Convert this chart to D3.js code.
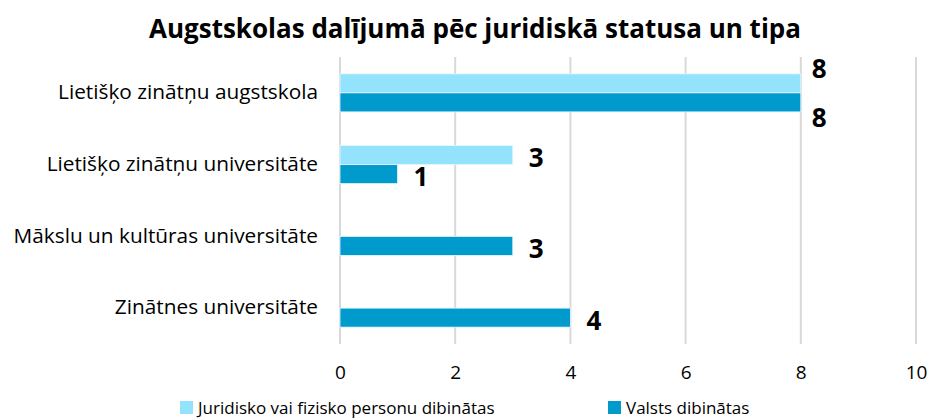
<!DOCTYPE html>
<html>
<head>
<meta charset="utf-8">
<script src="https://cdn.jsdelivr.net/npm/d3@7"></script>
<style>
  body { margin: 0; background: #fff; }
  svg { display: block; font-family: "Open Sans", sans-serif; }
  .grid line { stroke: #d9d9d9; stroke-width: 2; }
  .tick text { fill: #000; }
</style>
</head>
<body>
<svg id="chart" width="932" height="419"></svg>
<script>
// chart data
const categories = ['Lietišķo zinātņu augstskola', 'Lietišķo zinātņu universitāte', 'Mākslu un kultūras universitāte', 'Zinātnes universitāte'];
const seriesNames = ['Juridisko vai fizisko personu dibinātas', 'Valsts dibinātas'];
const privateVals = [8, 3, 0, 0];
const stateVals = [8, 1, 3, 4];
const xTicks = [0, 2, 4, 6, 8, 10];
const colors = ['#93e3fc', '#009acd'];

const FONT = '"Open Sans", sans-serif';
const svg = d3.select('#chart');
const margin = { top: 57, right: 16, bottom: 75, left: 340 };
const W = 932 - margin.left - margin.right, H = 419 - margin.top - margin.bottom;

svg.append('text').attr('x', 475).attr('y', 38).attr('text-anchor', 'middle')
  .attr('font-size', 26).attr('font-weight', 700).text('Augstskolas dalījumā pēc juridiskā statusa un tipa');

const g = svg.append('g').attr('transform', `translate(${margin.left},${margin.top})`);
const x = d3.scaleLinear().domain([0, 10]).range([0, W]);
const y = d3.scaleBand().domain(categories).range([0, H]).paddingInner(0.47).paddingOuter(0.235);
const sub = d3.scaleBand().domain([0, 1]).range([0, y.bandwidth()]);

// gridlines
g.append('g').attr('class', 'grid').selectAll('line').data(xTicks).join('line')
  .attr('x1', d => x(d)).attr('x2', d => x(d)).attr('y1', 0).attr('y2', H);

// x axis
g.append('g').attr('transform', `translate(0,${H})`)
  .call(d3.axisBottom(x).tickValues(xTicks).tickSize(0).tickPadding(22))
  .call(s => s.select('.domain').remove())
  .call(s => s.selectAll('text').attr('font-size', 19).attr('font-family', FONT));

// category labels
g.append('g').attr('transform', 'translate(-22,0)')
  .call(d3.axisLeft(y).tickSize(0).tickPadding(0))
  .call(s => s.select('.domain').remove())
  .call(s => s.selectAll('text').attr('font-size', 20.8).attr('font-family', FONT).attr('dy', '0.3em'));

const series = [privateVals, stateVals];
series.forEach((vals, si) => {
  const rows = vals.map((v, i) => ({ v, cat: categories[i], i }));
  g.append('g').selectAll('rect').data(rows.filter(d => d.v > 0)).join('rect')
    .attr('x', x(0)).attr('y', d => y(d.cat) + sub(si))
    .attr('width', d => x(d.v) - x(0)).attr('height', sub.bandwidth())
    .attr('fill', colors[si]).attr('stroke', '#e8f8ff').attr('stroke-width', 0.8);

  g.append('g').selectAll('text').data(rows.filter(d => d.v > 0)).join('text')
    .attr('x', d => x(d.v) + (d.v >= 8 ? 11 : 16))
    .attr('y', d => {
      const cy = y(d.cat) + sub(si) + sub.bandwidth() / 2;
      // the long top bars push their labels outward
      if (d.v >= 8) return cy + (si === 0 ? -14 : 16);
      return cy + 3;
    })
    .attr('dy', '0.35em').attr('font-size', 26).attr('font-weight', 700).text(d => d.v);
});

// legend
const legendX = [180, 608];
const legend = svg.append('g');
seriesNames.forEach((name, i) => {
  legend.append('rect').attr('x', legendX[i]).attr('y', 401).attr('width', 13).attr('height', 13).attr('fill', colors[i]);
  legend.append('text').attr('x', legendX[i] + 18).attr('y', 408).attr('dy', '0.35em')
    .attr('font-size', 17).text(name);
});
</script>
</body>
</html>
